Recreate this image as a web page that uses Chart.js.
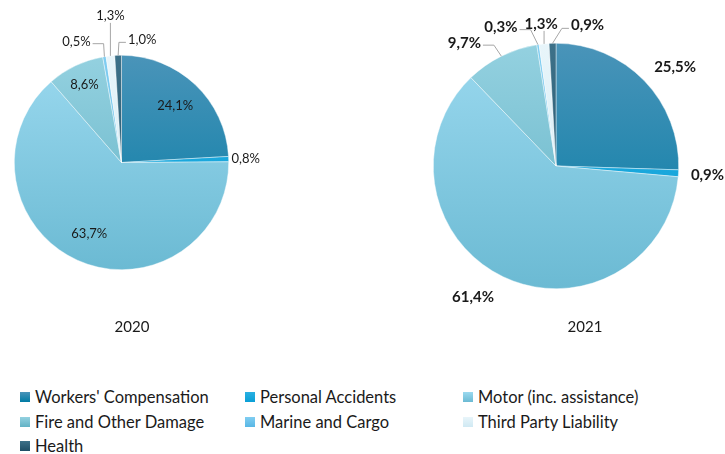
<!DOCTYPE html>
<html>
<head>
<meta charset="utf-8">
<script src="https://cdn.jsdelivr.net/npm/chart.js@4"></script>
<style>
  html, body { margin: 0; padding: 0; background: #fff; }
  body { width: 725px; height: 454px; position: relative; overflow: hidden; font-family: Lato, "Open Sans", sans-serif; color: #1a1a1a; }
  .pie { position: absolute; top: 0; height: 370px; }
  #pie2020 { left: 0; width: 362px; }
  #pie2021 { left: 362px; width: 363px; }
  .year { position: absolute; top: 316px; width: 100px; line-height: 20px; text-align: center; font-size: 15px; }
  #legend { position: absolute; left: 20px; top: 385px; display: grid; grid-template-columns: 225px 218px auto; grid-auto-rows: 24.5px; font-size: 16.5px; }
  #legend div { display: flex; align-items: center; white-space: nowrap; }
  #legend span.box { width: 10px; height: 10px; margin-right: 5px; flex: none; }
</style>
</head>
<body>
<canvas id="pie2020" class="pie" width="362" height="370"></canvas>
<canvas id="pie2021" class="pie" width="363" height="370"></canvas>
<div class="year" id="year2020" style="left:82px">2020</div>
<div class="year" id="year2021" style="left:535px">2021</div>
<div id="legend"></div>
<script>
const categories = [
  "Workers' Compensation",
  "Personal Accidents",
  "Motor (inc. assistance)",
  "Fire and Other Damage",
  "Marine and Cargo",
  "Third Party Liability",
  "Health"
]
const years = ["2020", "2021"]
const share2020 = [24.1, 0.8, 63.7, 8.6, 0.5, 1.3, 1.0]
const share2021 = [25.5, 0.9, 61.4, 9.7, 0.3, 1.3, 0.9]

// top / bottom colours of each slice gradient
const colorTop = ['#4a94b9', '#2ab0e2', '#9bd9ef', '#94d1e0', '#80cdf1', '#e8f5fa', '#3d7189']
const colorBottom = ['#007ba4', '#0a9fd6', '#6bbad3', '#62b2c5', '#58b7e5', '#d0e9f3', '#1e4e65']

// where each value label sits: r = inside at a fraction of the radius,
// dx/dy = offset from the slice's outer edge, line = leader side
const labels2020 = [
  { r: 0.73 },
  { dx: 17, dy: 0 },
  { r: 0.73 },
  { r: 0.8 },
  { dx: -28, dy: -15, line: 'left' },
  { dx: 0, dy: -40, line: 'up' },
  { dx: 24, dy: -16, line: 'right' }
]
const labels2021 = [
  { dx: 31, dy: -13 },
  { dx: 29, dy: 2 },
  { dx: -30, dy: 20 },
  { dx: -37, dy: -13, line: 'left' },
  { dx: -37, dy: -17, line: 'left' },
  { dx: -3, dy: -20, line: 'up' },
  { dx: 35, dy: -18, line: 'right' }
]

const sliceLabels = {
  id: 'sliceLabels',
  afterDatasetsDraw(chart, args, opts) {
    const ctx = chart.ctx
    const meta = chart.getDatasetMeta(0)
    const values = chart.data.datasets[0].data
    ctx.save()
    ctx.font = opts.font
    ctx.textAlign = 'center'
    ctx.textBaseline = 'middle'
    meta.data.forEach((arc, i) => {
      const p = arc.getProps(['x', 'y', 'startAngle', 'endAngle', 'outerRadius'], true)
      const mid = (p.startAngle + p.endAngle) / 2
      const spot = opts.layout[i]
      const text = values[i].toFixed(1).replace('.', ',') + '%'
      const w = ctx.measureText(text).width
      let lx, ly
      if (spot.r) {
        lx = p.x + Math.cos(mid) * p.outerRadius * spot.r
        ly = p.y + Math.sin(mid) * p.outerRadius * spot.r
      } else {
        const ex = p.x + Math.cos(mid) * p.outerRadius
        const ey = p.y + Math.sin(mid) * p.outerRadius
        lx = ex + spot.dx
        ly = ey + spot.dy
        if (spot.line) {
          let pts
          if (spot.line === 'up') {
            pts = [[ex, ey], [ex, ly + 7]]
          } else if (spot.line === 'left') {
            const right = lx + w / 2
            pts = [[ex, ey], [right + 13, ly + 2], [right + 2, ly + 2]]
          } else {
            const left = lx - w / 2
            pts = [[ex, ey], [left - 9, ly + 3], [left - 2, ly + 3]]
          }
          ctx.strokeStyle = '#a6a6a6'
          ctx.lineWidth = 1
          ctx.beginPath()
          pts.forEach((pt, k) => k ? ctx.lineTo(pt[0], pt[1]) : ctx.moveTo(pt[0], pt[1]))
          ctx.stroke()
        }
      }
      ctx.fillStyle = '#1a1a1a'
      ctx.fillText(text, lx, ly)
    })
    ctx.restore()
  }
}

function sliceFill(context) {
  const chart = context.chart
  const area = chart.chartArea
  if (!area) return colorBottom[context.dataIndex]
  const g = chart.ctx.createLinearGradient(0, area.top, 0, area.bottom)
  g.addColorStop(0, colorTop[context.dataIndex])
  g.addColorStop(1, colorBottom[context.dataIndex])
  return g
}

function makePie(id, values, layout, font, padding) {
  return new Chart(document.getElementById(id), {
    type: 'pie',
    data: {
      labels: categories,
      datasets: [{
        data: values,
        backgroundColor: sliceFill,
        borderColor: 'rgba(255, 255, 255, 0.7)',
        borderWidth: 0.6
      }]
    },
    options: {
      responsive: false,
      animation: false,
      layout: { padding: padding },
      plugins: {
        legend: { display: false },
        tooltip: { enabled: false },
        sliceLabels: { layout: layout, font: font }
      }
    },
    plugins: [sliceLabels]
  })
}

makePie('pie2020', share2020, labels2020, '13px Lato', { left: 14, top: 55, right: 133, bottom: 100 })
makePie('pie2021', share2021, labels2021, 'bold 15px Lato', { left: 71, top: 43, right: 46, bottom: 81 })

const legend = document.getElementById('legend')
categories.forEach((name, i) => {
  const item = document.createElement('div')
  const box = document.createElement('span')
  box.className = 'box'
  box.style.background = `linear-gradient(${colorTop[i]}, ${colorBottom[i]})`
  item.appendChild(box)
  item.appendChild(document.createTextNode(name))
  legend.appendChild(item)
})
</script>
</body>
</html>
